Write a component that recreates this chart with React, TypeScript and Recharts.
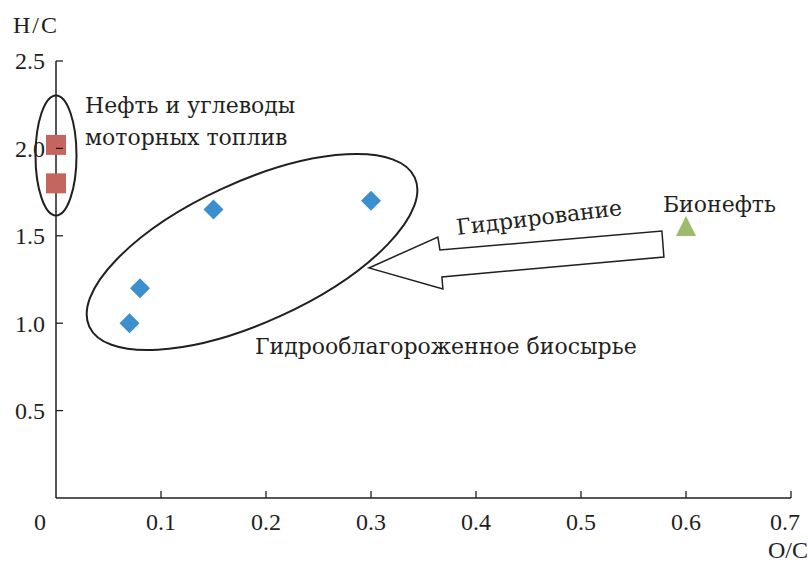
import { ScatterChart, Scatter, XAxis, YAxis, ReferenceDot, Label } from 'recharts';

// O/C vs H/C atomic ratios
const oilPoints = [
  { oc: 0.0, hc: 2.02 },
  { oc: 0.0, hc: 1.8 },
];
const upgradedPoints = [
  { oc: 0.07, hc: 1.0 },
  { oc: 0.08, hc: 1.2 },
  { oc: 0.15, hc: 1.65 },
  { oc: 0.3, hc: 1.7 },
];
const bioOilPoints = [{ oc: 0.6, hc: 1.55 }];

const xTicks = [0, 0.1, 0.2, 0.3, 0.4, 0.5, 0.6, 0.7];
const yTicks = [0.5, 1.0, 1.5, 2.0, 2.5];

const FONT = '"Liberation Serif", "Times New Roman", Times, serif';
const CYR_FONT = '"DejaVu Serif", serif';
const INK = '#231f20';

const Square = ({ cx, cy }: any) => (
  <rect x={cx - 10} y={cy - 10} width={20} height={20} fill="#c4665f" />
);

const Diamond = ({ cx, cy }: any) => (
  <polygon
    points={`${cx},${cy - 10} ${cx + 10},${cy} ${cx},${cy + 10} ${cx - 10},${cy}`}
    fill="#3a8fcc"
  />
);

const Triangle = ({ cx, cy }: any) => (
  <polygon
    points={`${cx},${cy - 11} ${cx + 10},${cy + 9} ${cx - 10},${cy + 9}`}
    fill="#9cbb6b"
  />
);

// ticks drawn inward, labels below / left
const XTick = ({ x, y, payload, index }: any) => {
  const v = payload.value;
  const last = index === xTicks.length - 1;
  let tx = x;
  if (v === 0) tx = x - 16; // origin label sits left of the axis
  if (last) tx = x - 6; // keep last label inside the frame
  return (
    <g>
      {v !== 0 && <line x1={x} y1={y} x2={x} y2={y - 7} stroke={INK} strokeWidth={1.3} />}
      <text x={tx} y={y + 32} textAnchor="middle" style={{ fontFamily: FONT, fontSize: 24 }} fill={INK}>
        {v === 0 ? '0' : v.toFixed(1)}
      </text>
    </g>
  );
};

const YTick = ({ x, y, payload }: any) => (
  <g>
    <line x1={x} y1={y} x2={x + 7} y2={y} stroke={INK} strokeWidth={1.3} />
    <text x={x - 11} y={y} dy="0.35em" textAnchor="end" style={{ fontFamily: FONT, fontSize: 24 }} fill={INK}>
      {payload.value.toFixed(1)}
    </text>
  </g>
);

const textStyle = { fontFamily: CYR_FONT, fontSize: 22 };

export default function App() {
  return (
    <div style={{ position: 'absolute', left: 0, top: 0, background: '#fff' }}>
      <ScatterChart width={808} height={564} margin={{ top: 61, right: 17, left: 0, bottom: 0 }}>
        <XAxis
          type="number"
          dataKey="oc"
          domain={[0, 0.7]}
          ticks={xTicks}
          interval={0}
          height={66}
          tickSize={0}
          tickMargin={0}
          tickLine={false}
          tick={<XTick />}
          axisLine={{ stroke: INK, strokeWidth: 1.5 }}
        >
          <Label
            content={({ viewBox }: any) => (
              <text
                x={viewBox.x + viewBox.width - 23}
                y={viewBox.y + 60}
                style={{ fontFamily: FONT, fontSize: 24 }}
                fill={INK}
              >
                O/C
              </text>
            )}
          />
        </XAxis>
        <YAxis
          type="number"
          dataKey="hc"
          domain={[0, 2.5]}
          ticks={yTicks}
          interval={0}
          width={56}
          tickSize={0}
          tickMargin={0}
          tickLine={false}
          tick={<YTick />}
          axisLine={{ stroke: INK, strokeWidth: 1.5 }}
        >
          <Label
            content={({ viewBox }: any) => (
              <text
                x={13}
                y={viewBox.y - 28}
                style={{ fontFamily: FONT, fontSize: 24, letterSpacing: 2 }}
                fill={INK}
              >
                H/C
              </text>
            )}
          />
        </YAxis>

        <Scatter data={oilPoints} shape={<Square />} isAnimationActive={false} />
        <Scatter data={upgradedPoints} shape={<Diamond />} isAnimationActive={false} />
        <Scatter data={bioOilPoints} shape={<Triangle />} isAnimationActive={false} />

        {/* group outlines */}
        <ReferenceDot
          x={0}
          y={1.96}
          ifOverflow="visible"
          shape={(p: any) => (
            <ellipse cx={p.cx} cy={p.cy} rx={20.5} ry={60} fill="none" stroke={INK} strokeWidth={2} />
          )}
        />
        <ReferenceDot
          x={0.1867}
          y={1.407}
          ifOverflow="visible"
          shape={(p: any) => (
            <ellipse
              cx={p.cx}
              cy={p.cy}
              rx={179}
              ry={70}
              transform={`rotate(-24.6 ${p.cx} ${p.cy})`}
              fill="none"
              stroke={INK}
              strokeWidth={2}
            />
          )}
        />

        {/* hydrotreating arrow, tip at the ellipse */}
        <ReferenceDot
          x={0.298}
          y={1.316}
          ifOverflow="visible"
          shape={(p: any) => {
            const pts = [
              [0, 0], [69, -31], [71, -18], [293, -37], [295, -11], [73, 9], [74, 21],
            ]
              .map(([dx, dy]) => `${p.cx + dx},${p.cy + dy}`)
              .join(' ');
            return <polygon points={pts} fill="#fff" stroke={INK} strokeWidth={1.5} />;
          }}
        />

        {/* annotations */}
        <ReferenceDot
          x={0.0276}
          y={2.2025}
          ifOverflow="visible"
          shape={(p: any) => (
            <text x={p.cx} y={p.cy} style={textStyle} fill={INK}>
              <tspan x={p.cx}>Нефть и углеводы</tspan>
              <tspan x={p.cx} dy={32}>моторных топлив</tspan>
            </text>
          )}
        />
        <ReferenceDot
          x={0.461}
          y={1.562}
          ifOverflow="visible"
          shape={(p: any) => (
            <text
              x={p.cx}
              y={p.cy}
              textAnchor="middle"
              transform={`rotate(-7 ${p.cx} ${p.cy})`}
              style={textStyle}
              fill={INK}
            >
              Гидрирование
            </text>
          )}
        />
        <ReferenceDot
          x={0.578}
          y={1.636}
          ifOverflow="visible"
          shape={(p: any) => (
            <text x={p.cx} y={p.cy} style={textStyle} fill={INK}>
              Бионефть
            </text>
          )}
        />
        <ReferenceDot
          x={0.1895}
          y={0.824}
          ifOverflow="visible"
          shape={(p: any) => (
            <text x={p.cx} y={p.cy} style={textStyle} fill={INK}>
              Гидрооблагороженное биосырье
            </text>
          )}
        />
      </ScatterChart>
    </div>
  );
}
